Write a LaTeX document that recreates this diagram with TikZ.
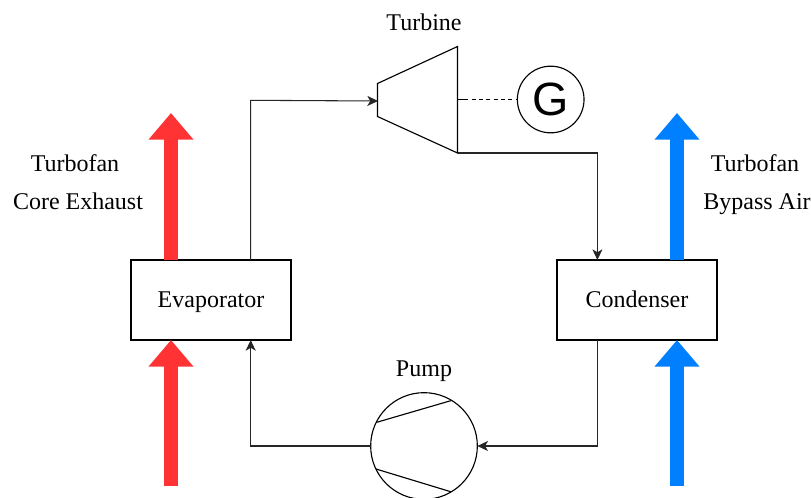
\documentclass[tikz,border=0pt]{standalone}
\usepackage{fontspec}
\setmainfont{Liberation Serif}
\newfontfamily\gfont{Liberation Sans}
\usetikzlibrary{arrows.meta}
\definecolor{hotred}{HTML}{FF3333}
\definecolor{coolblue}{HTML}{007FFF}
\tikzset{
  unitbox/.style={draw=black,fill=white,line width=0.8pt,minimum width=120pt,minimum height=60pt,inner sep=0pt,outer sep=0pt},
  unittext/.style={inner sep=0pt,anchor=base,font=\fontsize{18}{22}\selectfont},
  lbl/.style={inner sep=0pt,anchor=base,font=\fontsize{18}{22}\selectfont},
  fatred/.style={draw=hotred,line width=11pt,-{Triangle[length=20pt,width=32.5pt]}},
  fatblue/.style={draw=coolblue,line width=11pt,-{Triangle[length=20pt,width=32.5pt]}},
  flow/.style={draw=black!85,line width=0.8pt,-{Stealth[length=8pt,width=7.5pt,inset=2.2pt]}},
  plain/.style={draw=black,line width=0.85pt},
  equip/.style={draw=black,fill=white,line width=0.85pt},
  roundunit/.style={circle,draw=black,fill=white,line width=0.85pt,inner sep=0pt,outer sep=0pt},
}
\begin{document}
\begin{tikzpicture}[x=0.75pt,y=-0.75pt]
\clip (0,0) rectangle (811,497);
\fill[white] (0,0) rectangle (811,497);
% named points
\coordinate (redlow) at (171,486);
\coordinate (redtip) at (171,113);
\coordinate (bluelow) at (677,486);
\coordinate (bluetip) at (677,113);
\coordinate (tA) at (377.5,83.5);
\coordinate (tB) at (457.5,46.5);
\coordinate (tC) at (457.5,153);
\coordinate (tD) at (377.5,116.5);
\coordinate (tin) at (378,101);
\coordinate (tshaft) at (457.5,99.5);
% units
\node[unitbox] (evap) at (211,300) {};
\node[unitbox] (cond) at (637,300) {};
\node[unittext] (evapt) at (211,307) {Evaporator};
\node[unittext] (condt) at (637,307) {Condenser};
\node[roundunit,minimum size=80pt] (pump) at (424,446) {};
\node[roundunit,minimum size=50pt] (gen) at (550.7,99.5) {\gfont\fontsize{35}{40}\selectfont G};
% thick arrows
\draw[fatred] (redlow) -- (redlow |- evap.south);
\draw[fatred] (redlow |- evap.north) -- (redtip);
\draw[fatblue] (bluelow) -- (bluelow |- cond.south);
\draw[fatblue] (bluelow |- cond.north) -- (bluetip);
% turbine
\draw[equip,line join=miter] (tA) -- (tB) -- (tC) -- (tD) -- cycle;
% pump blades
\coordinate (pa) at (376.7,422.3);
\coordinate (pb) at (450.7,400.7);
\coordinate (pc) at (376,469);
\coordinate (pd) at (450.7,491.7);
\draw[plain] (pa) -- (pb);
\draw[plain] (pc) -- (pd);
% connectors
\coordinate (c1) at (250.7,100.3);
\coordinate (c2) at (597.4,153);
\coordinate (c3) at (597.4,446);
\coordinate (c4) at (250.7,446);
\draw[flow] (c1 |- evap.north) -- (c1) -- (tin);
\draw[flow] (tC) -- (c2) -- (c2 |- cond.north);
\draw[flow] (c2 |- cond.south) -- (c3) -- (pump.east);
\draw[flow] (pump.west) -- (c4) -- (c4 |- evap.south);
\draw[plain,dash pattern=on 8pt off 2.5pt on 3pt off 2.5pt on 3pt off 2.5pt on 3pt off 2.5pt on 3pt off 2.5pt on 3pt off 2.5pt on 3pt off 2.5pt] (tshaft) -- (gen.west);
% labels
\node[lbl] (lt) at (424,30) {Turbine};
\node[lbl] (lp) at (424,376) {Pump};
\node[lbl] (l1) at (75,171) {Turbofan};
\node[lbl] (l2) at (78,209) {Core Exhaust};
\node[lbl] (l3) at (755,171) {Turbofan};
\node[lbl] (l4) at (757,209) {Bypass Air};
\end{tikzpicture}
\end{document}
